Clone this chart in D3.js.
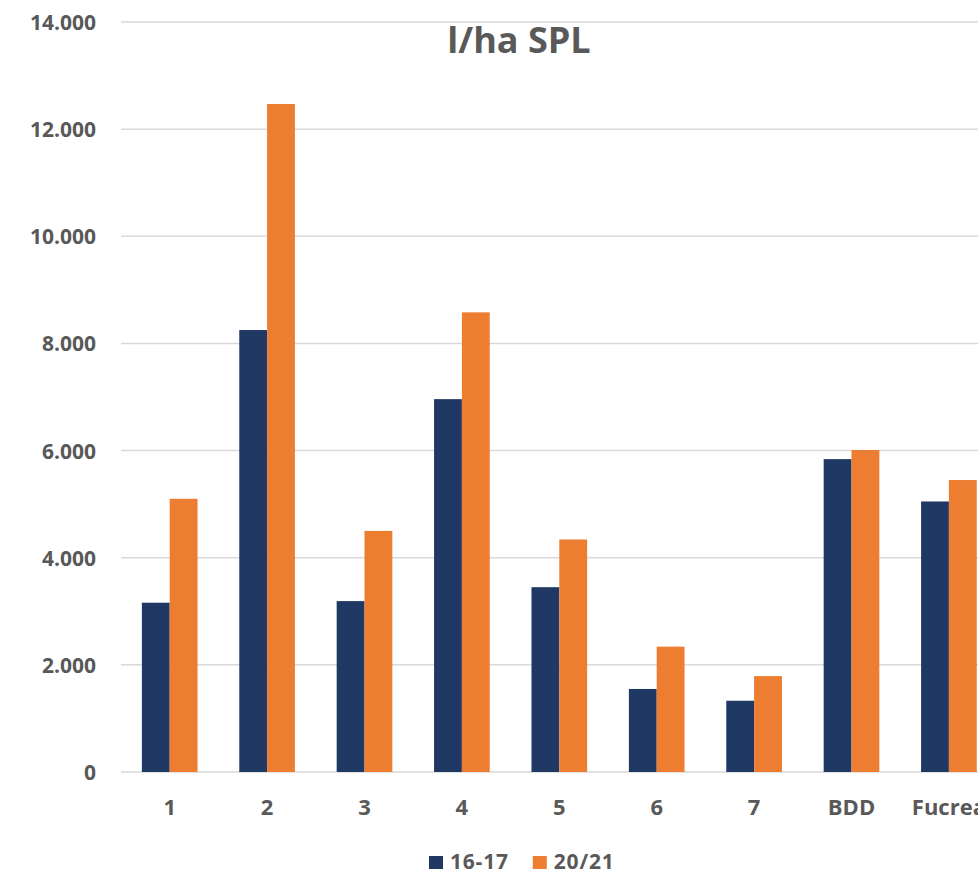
<!DOCTYPE html>
<html>
<head>
<meta charset="utf-8">
<script src="https://cdn.jsdelivr.net/npm/d3@7"></script>
<style>
  body { margin: 0; background: #fff; overflow: hidden; }
  svg { display: block; }
  text { font-family: "Open Sans", sans-serif; font-weight: 700; fill: #595959; }
</style>
</head>
<body>
<div id="chart"></div>
<script>
// l/ha SPL, two campaigns
var categories = ["1", "2", "3", "4", "5", "6", "7", "BDD", "Fucrea"];
var seriesNames = ["16-17", "20/21"];
var values1617 = [3160, 8250, 3190, 6960, 3450, 1550, 1330, 5840, 5050];
var values2021 = [5100, 12470, 4500, 8580, 4340, 2340, 1790, 6010, 5450];
var yTicks = [0, 2000, 4000, 6000, 8000, 10000, 12000, 14000];

var colors = ["#203864", "#ED7D31"];

var width = 1040, height = 875;
var margin = {top: 22, right: 42, bottom: 103, left: 121};

var fmt = d3.formatLocale({decimal: ",", thousands: ".", grouping: [3], currency: ["", "€"]}).format(",");

var svg = d3.select("#chart")
            .append("svg")
            .attr("width", width)
            .attr("height", height);

var x = d3.scaleBand()
          .domain(categories)
          .range([margin.left, margin.left + 9 * 97.4])
          .paddingInner(0.75 / 1.75)
          .paddingOuter(0.75 / 3.5);

var xs = d3.scaleBand()
           .domain(seriesNames)
           .range([0, x.bandwidth()]);

var y = d3.scaleLinear()
          .domain([0, 14000])
          .range([height - margin.bottom, margin.top]);

// gridlines
svg.append("g")
   .selectAll("line")
   .data(yTicks)
   .enter().append("line")
   .attr("x1", margin.left)
   .attr("x2", width)
   .attr("y1", function(d) { return y(d); })
   .attr("y2", function(d) { return y(d); })
   .style("stroke", "#d9d9d9")
   .style("stroke-width", 1.5);

// y labels
svg.append("g")
   .selectAll("text")
   .data(yTicks)
   .enter().append("text")
   .attr("x", 96)
   .attr("y", function(d) { return y(d) + 8; })
   .attr("text-anchor", "end")
   .style("font-size", "21px")
   .text(function(d) { return fmt(d); });

// bars
var data = categories.map(function(c, i) {
  return {cat: c, vals: [values1617[i], values2021[i]]};
});

var groups = svg.append("g")
   .selectAll("g")
   .data(data)
   .enter().append("g")
   .attr("transform", function(d) { return "translate(" + x(d.cat) + ",0)"; });

groups.selectAll("rect")
   .data(function(d) { return d.vals.map(function(v, j) { return {s: seriesNames[j], v: v, j: j}; }); })
   .enter().append("rect")
   .attr("x", function(d) { return xs(d.s); })
   .attr("width", xs.bandwidth())
   .attr("y", function(d) { return y(d.v); })
   .attr("height", function(d) { return y(0) - y(d.v); })
   .style("fill", function(d) { return colors[d.j]; });

// category labels
svg.append("g")
   .selectAll("text")
   .data(categories)
   .enter().append("text")
   .attr("x", function(d) { return x(d) + x.bandwidth() / 2; })
   .attr("y", 815)
   .attr("text-anchor", "middle")
   .style("font-size", "22px")
   .text(function(d) { return d; });

// title
svg.append("text")
   .attr("x", 519)
   .attr("y", 53)
   .attr("text-anchor", "middle")
   .style("font-size", "36px")
   .text("l/ha SPL");

// legend
var legend = svg.append("g").attr("class", "legend");
var lx = 429;
seriesNames.forEach(function(name, i) {
  legend.append("rect")
        .attr("x", lx)
        .attr("y", 856)
        .attr("width", 14)
        .attr("height", 13)
        .style("fill", colors[i]);
  var t = legend.append("text")
        .attr("x", lx + 21)
        .attr("y", 869)
        .style("font-size", "21px")
        .style("letter-spacing", "0.8px")
        .text(name);
  lx += 21 + t.node().getComputedTextLength() + 24;
});
</script>
</body>
</html>
